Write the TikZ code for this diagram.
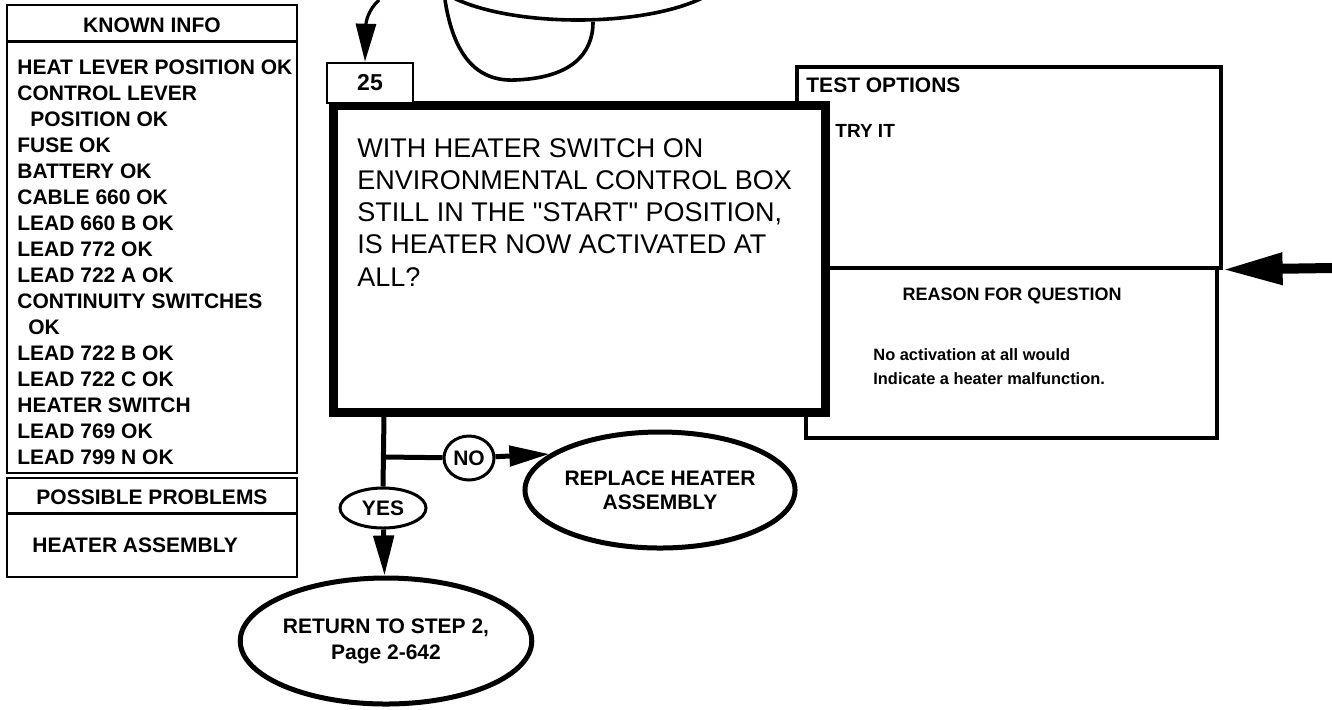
\documentclass[tikz,border=0pt]{standalone}
\usepackage{fontspec}
\setmainfont{Liberation Sans}
\newfontfamily\plainquote{Liberation Sans}[Ligatures=TeXOff]
\usepackage{tikz}
\usetikzlibrary{arrows.meta, positioning, shapes.geometric}

\begin{document}
\begin{tikzpicture}[
    x=0.5pt, y=-0.5pt,
    font=\bfseries\fontsize{10.5}{13}\selectfont,
    thinbox/.style={rectangle, draw, line width=1.3pt, inner sep=0pt},
    mainbox/.style={rectangle, draw, fill=white, line width=4.5pt, inner sep=0pt},
    infotext/.style={inner sep=0pt, anchor=west},
    endell/.style={ellipse, draw, line width=2.5pt, inner sep=0pt, align=center},
    answer/.style={ellipse, draw, fill=white, line width=1.5pt, inner sep=0pt},
    flowline/.style={line width=2.5pt},
    arr/.style={line width=2.5pt, -{Triangle[length=20pt, width=10pt]}},
    thinarr/.style={line width=1.6pt, -{Triangle[length=19pt, width=10pt]}},
    bigarr/.style={line width=5pt, -{Triangle[length=30pt, width=15pt]}}
  ]
    \useasboundingbox (0,0) rectangle (1332,709);

    %% -- Left column: known info / possible problems
    \node[thinbox, minimum width=145pt, minimum height=234pt] (known) at (152, 239) {};
    \draw[line width=1.3pt] ([yshift=-19pt]known.north west) -- ([yshift=-19pt]known.north east);
    \node (knownhead) at (152, 25) {KNOWN INFO};
    \foreach \txt [count=\i from 0] in {HEAT LEVER POSITION OK, CONTROL LEVER,
        \hspace{6.5pt}POSITION OK, FUSE OK, BATTERY OK, CABLE 660 OK, LEAD 660 B OK,
        LEAD 772 OK, LEAD 722 A OK, CONTINUITY SWITCHES, \hspace{5.5pt}OK,
        LEAD 722 B OK, LEAD 722 C OK, HEATER SWITCH, LEAD 769 OK, LEAD 799 N OK} {
      \node[infotext] (ki\i) at (17, {67+26*\i}) {\txt};
    }

    \node[thinbox, minimum width=145pt, minimum height=49.5pt] (probs) at (152, 527.5) {};
    \draw[line width=1.3pt] ([yshift=-18.5pt]probs.north west) -- ([yshift=-18.5pt]probs.north east);
    \node (probhead) at (152, 497) {POSSIBLE PROBLEMS};
    \node[infotext] (prob1) at (32, 545) {HEATER ASSEMBLY};

    %% -- Right panel: test options / reason for question
    \node[thinbox, line width=1.6pt, minimum width=212pt, minimum height=100.5pt] (testopt) at (1009, 167.5) {};
    \node[thinbox, line width=1.6pt, minimum width=205.5pt, minimum height=85pt] (reason) at (1011.5, 353) {};
    \node[infotext] (testhead) at (806, 85) {TEST OPTIONS};
    \node[infotext, font=\bfseries\fontsize{9.5}{12}\selectfont] (tryit) at (835, 131) {TRY IT};
    \node[font=\bfseries\fontsize{9}{12}\selectfont] (reasonhead) at (1012, 296) {REASON FOR QUESTION};
    \node[inner sep=0pt, anchor=north west, align=left,
          font=\bfseries\fontsize{8.2}{12}\selectfont] (reasontxt) at (873, 348)
          {No activation at all would\\Indicate a heater malfunction.};

    %% -- Step 25 question
    \node[mainbox, minimum width=246pt, minimum height=153.5pt] (q25) at (579, 258.5) {};
    \node[thinbox, fill=white, minimum width=43pt, minimum height=20pt,
          font=\bfseries\fontsize{11.5}{13}\selectfont] (num) at (370, 83) {25};
    \node[inner sep=0pt, anchor=north west, align=left,
          font=\plainquote\fontsize{13.5}{16.1}\selectfont] (qtext) at (357, 138)
          {WITH HEATER SWITCH ON\\ENVIRONMENTAL CONTROL BOX\\STILL IN THE "START" POSITION,\\IS HEATER NOW ACTIVATED AT\\ALL?};

    %% -- Top: previous terminal (cut off by the page edge)
    \node[ellipse, draw, line width=1.8pt, minimum width=150pt, minimum height=50pt] (topell) at (578, -30) {};
    \coordinate (topin) at (379, 0);
    \coordinate (loopin) at (445, 0);
    \draw[thinarr] (topin) .. controls (368, 10) and (366, 22) .. ([xshift=-2.5pt]num.north);
    \draw[line width=1.8pt] (loopin) .. controls (452, 45) and (470, 82) .. (515, 80)
          .. controls (570, 78) and (593, 55) .. ([xshift=7.5pt]topell.south);

    %% -- Answers
    \coordinate (split) at (384, 457);
    \node[answer, minimum width=25pt, minimum height=22pt] (no) at (469, 458) {NO};
    \node[answer, minimum width=43pt, minimum height=20pt] (yes) at (383, 508) {YES};
    \node[endell, minimum width=130pt, minimum height=58pt,
          font=\bfseries\fontsize{10.5}{12}\selectfont] (replace) at (660, 490)
          {REPLACE HEATER\\ASSEMBLY};
    \node[endell, minimum width=131pt, minimum height=63pt,
          font=\bfseries\fontsize{10.5}{13}\selectfont] (ret) at (386, 641)
          {RETURN TO STEP 2,\\Page 2-642};

    \draw[flowline] (split |- q25.south) -- (yes.north);
    \draw[flowline] (split) -- (no);
    \draw[arr] (no) -- (replace.162);
    \draw[arr] (yes) -- (ret);

    %% -- Arrow in from the right
    \coordinate (rightin) at (1332, 268);
    \draw[bigarr] (rightin) -- (testopt.south east);

\end{tikzpicture}
\end{document}
